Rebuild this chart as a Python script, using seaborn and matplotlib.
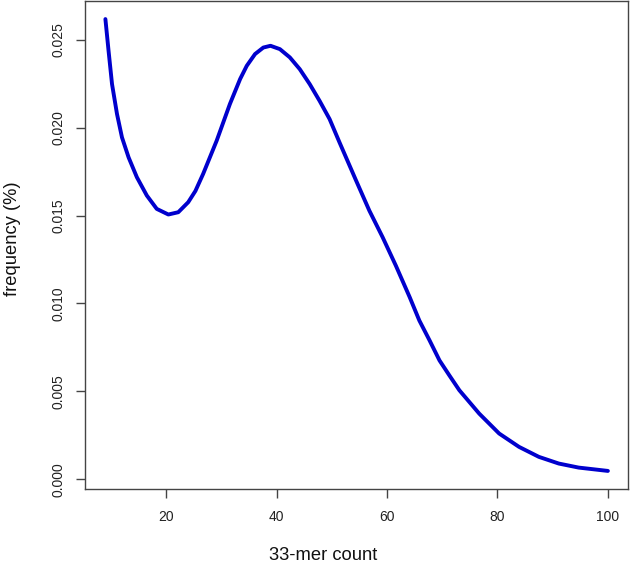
import numpy as np
import pandas as pd
import matplotlib
matplotlib.use("Agg")
import matplotlib.pyplot as plt
import seaborn as sns

# values
kmer_count = [9, 9.57, 10.2, 11.1, 12.0, 13.2, 14.7, 16.5, 18.3, 20.4, 22.2,
              24.0, 25.3, 26.7, 29.15, 31.55, 33.4, 34.6, 36.1, 37.6, 38.9,
              40.6, 42.4, 44.2, 46.0, 47.8, 49.6, 51.4, 54.4, 56.8, 59.2,
              61.6, 64.1, 65.85, 67.7, 69.5, 71.3, 73.1, 76.7, 80.3, 83.9,
              87.5, 91.1, 94.7, 100]
frequency = [0.02618, 0.02438, 0.02248, 0.02078, 0.01945, 0.01831, 0.01718,
             0.01614, 0.01538, 0.01506, 0.01519, 0.01576, 0.01640, 0.01737,
             0.01926, 0.02135, 0.02277, 0.02352, 0.02419, 0.02456, 0.02466,
             0.02447, 0.02400, 0.02333, 0.02248, 0.02152, 0.02049, 0.01916,
             0.01699, 0.01528, 0.01377, 0.01215, 0.01036, 0.00903, 0.00790,
             0.00676, 0.00590, 0.00506, 0.00373, 0.00260, 0.00184, 0.00127,
             0.00089, 0.00066, 0.00047]
x_ticks = [20, 40, 60, 80, 100]
y_ticks = [0.000, 0.005, 0.010, 0.015, 0.020, 0.025]

df = pd.DataFrame({"count": kmer_count, "freq": frequency})

sns.set_theme(style="white")
plt.rcParams["font.family"] = ["Liberation Sans", "DejaVu Sans"]

fig = plt.figure(figsize=(6.3, 5.64), dpi=100)
ax = fig.add_axes([85.3 / 630, 75 / 564, 542.7 / 630, 488 / 564])

sns.lineplot(data=df, x="count", y="freq", ax=ax, color="#0000cd",
             lw=2.8, sort=False, estimator=None, solid_capstyle="round",
             solid_joinstyle="round")

# R-like 4% axis expansion
xr = max(kmer_count) - min(kmer_count)
yr = max(frequency) - min(frequency)
ax.set_xlim(min(kmer_count) - 0.04 * xr, max(kmer_count) + 0.04 * xr)
ax.set_ylim(min(frequency) - 0.04 * yr, max(frequency) + 0.04 * yr)

ax.set_xticks(x_ticks)
ax.set_xticklabels([str(t) for t in x_ticks])
ax.set_yticks(y_ticks)
ax.set_yticklabels([f"{t:.3f}" for t in y_ticks], rotation=90, va="center")

for s in ax.spines.values():
    s.set_color("#444444")
    s.set_linewidth(1.0)
ax.tick_params(axis="both", direction="out", length=6.5, width=1.0,
               color="#444444", labelsize=10, labelcolor="#222222")
ax.tick_params(axis="x", bottom=True, pad=8.5)
ax.tick_params(axis="y", left=True, pad=7.5)

ax.set_xlabel("33-mer count", fontsize=13.2, color="#111111")
ax.set_ylabel("frequency (%)", fontsize=13.2, color="#111111")
ax.xaxis.set_label_coords(0.438, -0.118)
ax.yaxis.set_label_coords(-0.119, 0.513)

fig.savefig("out.png", dpi=100)
